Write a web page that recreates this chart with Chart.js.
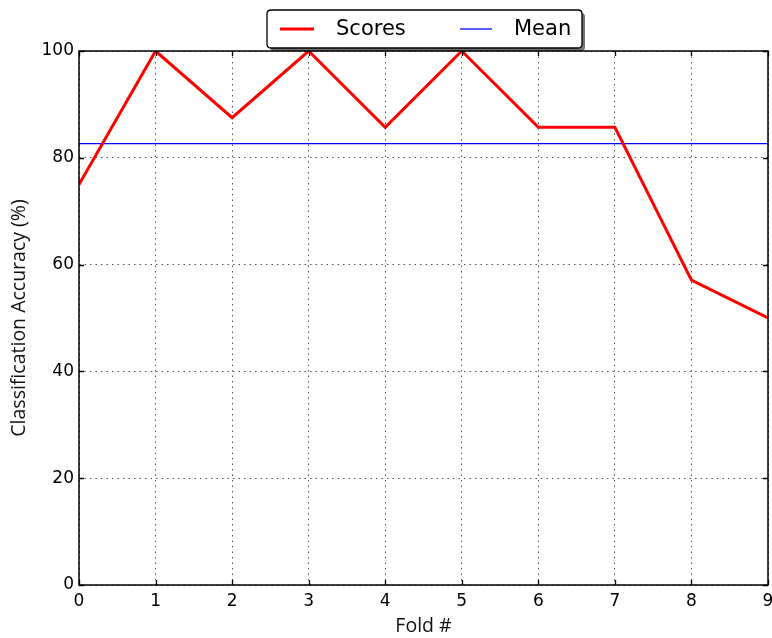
<!DOCTYPE html>
<html>
<head>
<meta charset="utf-8">
<script src="https://cdn.jsdelivr.net/npm/chart.js@4.4.1/dist/chart.umd.min.js"></script>
<style>
  html, body { margin: 0; padding: 0; background: #ffffff; }
  #wrap { width: 772px; height: 638px; position: relative; }
</style>
</head>
<body>
<div id="wrap"><canvas id="c" width="772" height="638"></canvas></div>
<script>
// Cross-validation results per fold
const folds = [0, 1, 2, 3, 4, 5, 6, 7, 8, 9];
const scores = [75.0, 100.0, 87.5, 100.0, 85.7, 100.0, 85.7, 85.7, 57.1, 50.0];
const xTicks = [0, 1, 2, 3, 4, 5, 6, 7, 8, 9];
const yTicks = [0, 20, 40, 60, 80, 100];

const meanScore = scores.reduce((a, b) => a + b, 0) / scores.length;

const scorePoints = folds.map((f, i) => ({ x: f, y: scores[i] }));
const meanPoints = [{ x: folds[0], y: meanScore }, { x: folds[folds.length - 1], y: meanScore }];

const tickFont = { family: 'DejaVu Sans', size: 17 };
const titleFont = { family: 'Open Sans', size: 19.5 };

// Frame, inward tick marks and boxed legend
const framePlugin = {
  id: 'frame',
  afterDatasetsDraw(chart) {
    const { ctx, chartArea: a, scales } = chart;
    ctx.save();
    ctx.strokeStyle = '#000';
    ctx.lineWidth = 1.3;
    const L = 5;
    ctx.beginPath();
    xTicks.forEach(v => {
      const x = Math.round(scales.x.getPixelForValue(v)) + 0.5;
      ctx.moveTo(x, a.bottom); ctx.lineTo(x, a.bottom - L);
      ctx.moveTo(x, a.top); ctx.lineTo(x, a.top + L);
    });
    yTicks.forEach(v => {
      const y = Math.round(scales.y.getPixelForValue(v)) + 0.5;
      ctx.moveTo(a.left, y); ctx.lineTo(a.left + L, y);
      ctx.moveTo(a.right, y); ctx.lineTo(a.right - L, y);
    });
    ctx.stroke();
    ctx.lineWidth = 1.5;
    ctx.strokeRect(a.left, a.top, a.right - a.left, a.bottom - a.top);
    ctx.restore();
  },
  afterDraw(chart) {
    const { ctx } = chart;
    const bx = 267, by = 10, bw = 315, bh = 38;
    ctx.save();
    // shadow
    ctx.fillStyle = 'rgba(0,0,0,0.55)';
    roundRect(ctx, bx + 3, by + 3, bw, bh, 4); ctx.fill();
    ctx.fillStyle = '#fff';
    roundRect(ctx, bx, by, bw, bh, 4); ctx.fill();
    ctx.strokeStyle = '#000';
    ctx.lineWidth = 1.3;
    roundRect(ctx, bx, by, bw, bh, 4); ctx.stroke();
    const cy = by + bh / 2;
    ctx.font = '21px "DejaVu Sans"';
    ctx.textBaseline = 'middle';
    ctx.fillStyle = '#000';
    const items = chart.data.datasets;
    const xs = [[280, 314, 336], [460, 492, 514]];
    items.forEach((ds, i) => {
      ctx.strokeStyle = ds.borderColor;
      ctx.lineWidth = ds.borderWidth;
      ctx.beginPath();
      ctx.moveTo(xs[i][0], cy); ctx.lineTo(xs[i][1], cy);
      ctx.stroke();
      ctx.fillText(ds.label, xs[i][2], cy + 1);
    });
    ctx.restore();
  }
};

function roundRect(ctx, x, y, w, h, r) {
  ctx.beginPath();
  ctx.moveTo(x + r, y);
  ctx.lineTo(x + w - r, y); ctx.quadraticCurveTo(x + w, y, x + w, y + r);
  ctx.lineTo(x + w, y + h - r); ctx.quadraticCurveTo(x + w, y + h, x + w - r, y + h);
  ctx.lineTo(x + r, y + h); ctx.quadraticCurveTo(x, y + h, x, y + h - r);
  ctx.lineTo(x, y + r); ctx.quadraticCurveTo(x, y, x + r, y);
  ctx.closePath();
}

new Chart(document.getElementById('c'), {
  type: 'line',
  data: {
    datasets: [
      { label: 'Scores', data: scorePoints, borderColor: '#ff0000', borderWidth: 3,
        pointRadius: 0, tension: 0, fill: false },
      { label: 'Mean', data: meanPoints, borderColor: '#0000ff', borderWidth: 1.3,
        pointRadius: 0, tension: 0, fill: false }
    ]
  },
  options: {
    responsive: false,
    animation: false,
    devicePixelRatio: 1,
    layout: { padding: { left: 0, right: 4, top: 51, bottom: 0 } },
    plugins: { legend: { display: false }, tooltip: { enabled: false } },
    scales: {
      x: {
        type: 'linear', min: 0, max: 9,
        afterBuildTicks: s => { s.ticks = xTicks.map(v => ({ value: v })); },
        afterFit: s => { s.height = 53; s.paddingRight = 0; s.paddingLeft = 0; },
        grid: { color: '#555', lineWidth: 1, drawTicks: false, borderDash: [1.5, 4] },
        border: { display: false, dash: [1.5, 4] },
        ticks: { font: tickFont, color: '#000', padding: 6, maxRotation: 0 },
        title: { display: true, text: 'Fold #', font: titleFont, color: '#111', padding: { top: 0, bottom: 0 } }
      },
      y: {
        type: 'linear', min: 0, max: 100,
        afterBuildTicks: s => { s.ticks = yTicks.map(v => ({ value: v })); },
        afterFit: s => { s.width = 79; s.paddingTop = 0; s.paddingBottom = 0; },
        grid: { color: '#555', lineWidth: 1, drawTicks: false },
        border: { display: false, dash: [1.5, 4] },
        ticks: { font: tickFont, color: '#000', padding: 5 },
        title: { display: true, text: 'Classification Accuracy (%)', font: titleFont, color: '#111', padding: { top: 8, bottom: 4 } }
      }
    }
  },
  plugins: [framePlugin]
});
</script>
</body>
</html>
